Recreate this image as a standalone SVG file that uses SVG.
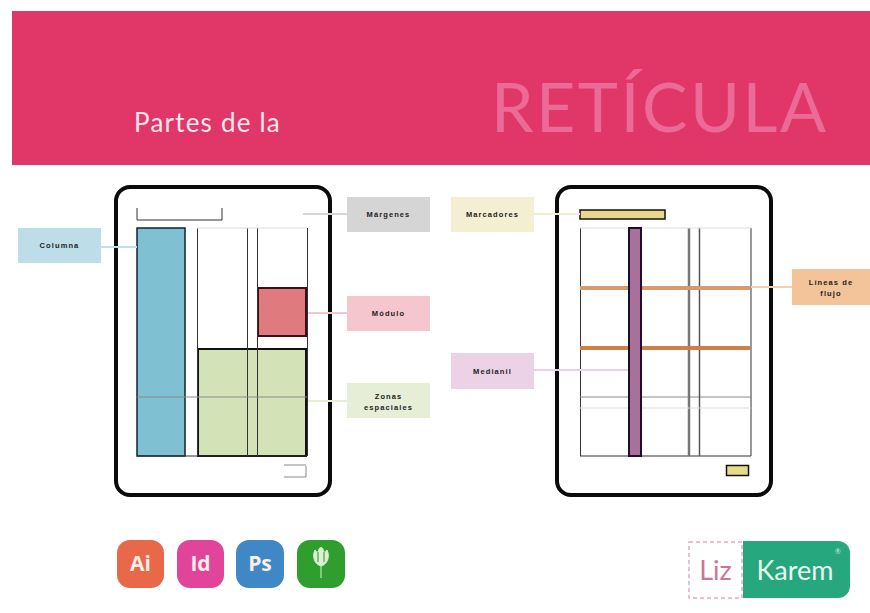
<svg xmlns="http://www.w3.org/2000/svg" width="870" height="613" viewBox="0 0 870 613">
<style>
.card{fill:#fff;stroke:#0b0b0b;stroke-width:4}
.g{stroke:#333;stroke-width:1;fill:none}
.gl{stroke:#8a8a8a;stroke-width:1;fill:none}
.lab{font:bold 7.500px "Liberation Sans",Arial,sans-serif;letter-spacing:1.100px;fill:#222;text-anchor:middle}
.ico{font:bold 21px "Open Sans",Arial,sans-serif;fill:#fbeee8;text-anchor:middle}
.c{stroke-width:2;fill:none}
</style>
<rect width="870" height="613" fill="#fff"/>
<g id="banner">
<rect x="12" y="11" width="858" height="154" fill="#e03768"/>
<text x="134" y="132" font-family="Lato,'Noto Sans',sans-serif" font-size="26" letter-spacing="1.200" fill="#fbe6ee">Partes de la</text>
<text x="491" y="132" font-family="Lato,'Noto Sans',sans-serif" font-size="68" letter-spacing="2.500" fill="#ec6a97">RETÍCULA</text>
</g>
<g id="page-left">
<rect class="card" x="116" y="187" width="214" height="308" rx="14"/>
<path class="g" d="M137 208V220H222V208"/>
<path class="gl" d="M284 465H306M284 477H306V466"/>
<rect x="137" y="228" width="48" height="228" fill="#7fc0d3" stroke="#123" stroke-width="1.500"/>
<rect x="198" y="349" width="108" height="107" fill="#d4e2b8" stroke="#111" stroke-width="2"/>
<rect x="258" y="288" width="48" height="48" fill="#df7b7e" stroke="#3a1015" stroke-width="2"/>
<path class="g" d="M197.500 228V456M247.500 228V456M257.500 228V456M307.500 228V456M137 456H307"/>
<path class="gl" d="M137 397H307"/>
<path d="M197 228H307" stroke="#ddd" fill="none"/>
</g>
<g id="page-right">
<rect class="card" x="557" y="187" width="214" height="308" rx="14"/>
<path class="g" d="M580.500 228V456M751 228V456M580 456H751"/>
<path class="gl" d="M580 397H751"/>
<path d="M689 228V456" stroke="#777" stroke-width="2.500"/>
<path d="M699.500 228V456" stroke="#555" stroke-width="1.500"/>
<path d="M580 228H751M580 408H751" stroke="#ddd" fill="none"/>
<path d="M580 288H750" stroke="#d49a70" stroke-width="4"/>
<path d="M580 348H750" stroke="#d08047" stroke-width="4"/>
<rect x="629" y="228" width="12" height="228" fill="#a8709a" stroke="#1c0f2a" stroke-width="2"/>
<rect x="580" y="210" width="85" height="9" fill="#e8d78c" stroke="#111" stroke-width="1.500"/>
<rect x="726.500" y="465.500" width="22" height="10" fill="#e5dc88" stroke="#111" stroke-width="1.500"/>
</g>
<g id="connectors">
<path class="c" stroke="#c2dfe9" d="M101 247H137"/>
<path class="c" stroke="#d6d6d6" d="M303 214H347"/>
<path class="c" stroke="#f3c6cc" d="M308 313H347"/>
<path class="c" stroke="#e6eed6" d="M308 401H347"/>
<path class="c" stroke="#f2ecd0" d="M534 214H580"/>
<path class="c" stroke="#ebd0e4" d="M534 370H628"/>
<path class="c" stroke="#f4cfae" d="M751 287H792"/>
</g>
<g id="columna"><rect x="18" y="228" width="83" height="35" fill="#bddde9"/><text class="lab" x="59.500" y="248">Columna</text></g>
<g id="margenes"><rect x="347" y="197" width="83" height="35" fill="#d5d5d5"/><text class="lab" x="388.500" y="217">Márgenes</text></g>
<g id="modulo"><rect x="347" y="296" width="83" height="35" fill="#f5c6cd"/><text class="lab" x="388.500" y="316">Módulo</text></g>
<g id="zonas"><rect x="347" y="383" width="83" height="35" fill="#e6eed8"/><text class="lab" x="388.500" y="399">Zonas</text><text class="lab" x="388.500" y="410">espaciales</text></g>
<g id="marcadores"><rect x="451" y="197" width="83" height="35" fill="#f4eed2"/><text class="lab" x="492.500" y="217">Marcadores</text></g>
<g id="medianil"><rect x="451" y="353" width="83" height="36" fill="#ecd2e6"/><text class="lab" x="492.500" y="374">Medianil</text></g>
<g id="lineas"><rect x="792" y="269" width="78" height="36" fill="#f3c39a"/><text class="lab" x="831" y="285">Líneas de</text><text class="lab" x="831" y="296">flujo</text></g>
<g id="icon-ai"><rect x="117" y="540" width="47" height="48" rx="13" fill="#e8684a"/><text class="ico" x="140.500" y="571">Ai</text></g>
<g id="icon-id"><rect x="177" y="540" width="47" height="48" rx="13" fill="#e0459a"/><text class="ico" x="200.500" y="571">Id</text></g>
<g id="icon-ps"><rect x="236" y="540" width="48" height="48" rx="13" fill="#3f88c5"/><text class="ico" x="260" y="571">Ps</text></g>
<g id="icon-corel"><rect x="297" y="540" width="48" height="48" rx="13" fill="#2f9e2f"/>
<path d="M321 578V566M321 566C314 564 312 556 315 550C317 553 318 553 319 549C320 547 322 547 323 549C324 553 325 553 327 550C330 556 328 564 321 566Z" fill="#dcefd2" stroke="#dcefd2"/><path d="M318 552V562M324 552V562" stroke="#5fb55a" stroke-width="1.500"/></g>
<g id="logo">
<rect x="689" y="542" width="53" height="56" fill="#fff" stroke="#e6a9c4" stroke-width="1.500" stroke-dasharray="4 3"/>
<text x="715.500" y="580" font-family="Lato,'Noto Sans',sans-serif" font-size="27" fill="#cc7697" text-anchor="middle">Liz</text>
<path d="M743 541H838A12 12 0 0 1 850 553V586A12 12 0 0 1 838 598H743Z" fill="#27a77e"/>
<text x="795" y="580" font-family="Lato,'Noto Sans',sans-serif" font-size="27" fill="#e8f6f1" text-anchor="middle">Karem</text>
<text x="838" y="554" font-family="Lato,'Noto Sans',sans-serif" font-size="7" fill="#d5efe6" text-anchor="middle">®</text>
</g>
</svg>
